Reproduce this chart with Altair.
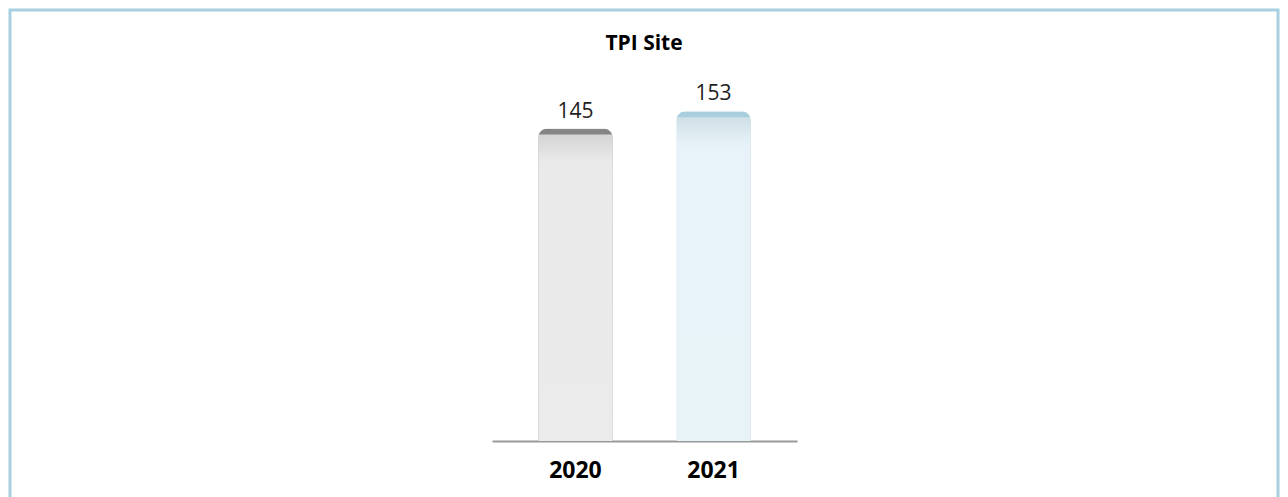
import altair as alt
import pandas as pd

years = ["2020", "2021"]
values = [145, 153]
title_text = "TPI Site"

df = pd.DataFrame({"year": years, "value": values})

W = 1268
H = 500
BASE = 431

x_enc = alt.X(
    "year:N",
    sort=years,
    scale=alt.Scale(range=[482, 787], paddingInner=0.462, paddingOuter=0.335),
    axis=alt.Axis(
        title=None, labelAngle=0, ticks=False, tickSize=0, grid=False,
        domainColor="#999999", domainWidth=2,
        labelFont="Open Sans", labelFontSize=23, labelFontWeight="bold",
        labelColor="#000000", labelPadding=36, labelBaseline="alphabetic",
        offset=-(H - BASE),
    ),
)
y_enc = alt.Y("value:Q", scale=alt.Scale(domain=[0, 200], range=[BASE, 0], nice=False, zero=True), axis=None)

is2020 = "datum.year == '2020'"

grad_gray = {"gradient": "linear", "x1": 0, "y1": 0, "x2": 0, "y2": 1,
             "stops": [{"offset": 0, "color": "#d4d4d4"}, {"offset": 0.09, "color": "#eaeaea"}, {"offset": 1, "color": "#ebebeb"}]}
grad_blue = {"gradient": "linear", "x1": 0, "y1": 0, "x2": 0, "y2": 1,
             "stops": [{"offset": 0, "color": "#d0e0e7"}, {"offset": 0.09, "color": "#e8f3f9"}, {"offset": 1, "color": "#e8f3f8"}]}

base = alt.Chart(df).encode(x=x_enc, y=y_enc)

cap = base.mark_bar(cornerRadiusTopLeft=9, cornerRadiusTopRight=9).encode(
    fill=alt.condition(is2020, alt.value("#858585"), alt.value("#a9cfdf"))
)
body = base.mark_bar(cornerRadiusTopLeft=9, cornerRadiusTopRight=9, yOffset=6).encode(
    fill=alt.condition(is2020, alt.value(grad_gray), alt.value(grad_blue))
)
labels = base.mark_text(dy=-11, baseline="alphabetic", fontSize=21, font="Open Sans", color="#222222").encode(
    text=alt.Text("value:Q")
)

chart = alt.layer(cap, body, labels).properties(
    width=W,
    height=H,
    title=alt.Title(title_text, fontSize=21, font="Open Sans", fontWeight="bold", color="#000000",
                    anchor="middle", offset=-61, baseline="alphabetic"),
    autosize=alt.AutoSizeParams(type="none"),
    padding={"left": 2, "top": 2, "right": 2, "bottom": 2},
).configure_view(stroke="#a8d0e0", strokeWidth=3)

chart.save("out.html", embed_options={"renderer": "svg", "actions": False})
